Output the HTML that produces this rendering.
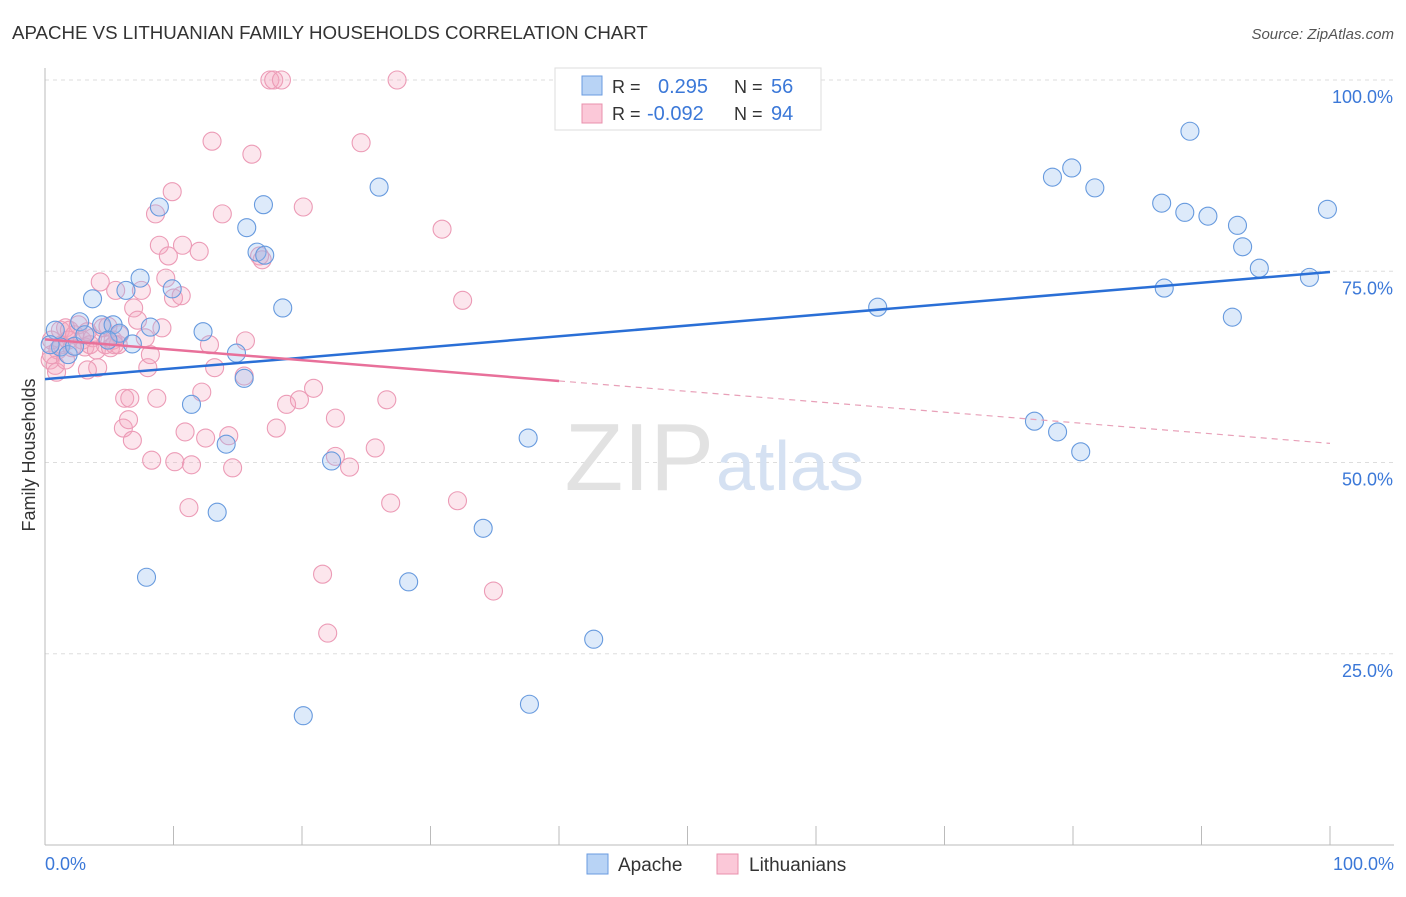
<!DOCTYPE html>
<html><head><meta charset="utf-8"><style>
body{margin:0;background:#fff;font-family:"Liberation Sans",sans-serif;}
svg text{font-family:"Liberation Sans",sans-serif;}
</style></head><body>
<svg id="chart" width="1406" height="892">
<text x="12" y="39" font-size="18.7" fill="#333">APACHE VS LITHUANIAN FAMILY HOUSEHOLDS CORRELATION CHART</text>
<text x="1394" y="39" font-size="15" fill="#555" font-style="italic" text-anchor="end">Source: ZipAtlas.com</text>
<g id="grid"></g>
<text x="714" y="490" font-size="96" fill="#e2e2e2" text-anchor="end" font-family="Liberation Serif">ZIP</text>
<text x="716" y="490" font-size="70" fill="#d5e1f2">atlas</text>
<g id="pts"></g>
<g id="lines"></g>
<text transform="translate(35,455) rotate(-90)" font-size="18" fill="#333" text-anchor="middle">Family Households</text>
<text x="45" y="870" font-size="18" fill="#3b78d8">0.0%</text>
<text x="1394" y="870" font-size="18" fill="#3b78d8" text-anchor="end">100.0%</text>
<g>
<rect x="555" y="68" width="266" height="62" fill="#fff" stroke="#ddd"/>
<rect x="582" y="76" width="20" height="19" fill="#b8d3f5" stroke="#6a9be0"/>
<rect x="582" y="104" width="20" height="19" fill="#fbc8d8" stroke="#e890ac"/>
<text x="612" y="93" font-size="18" fill="#333">R = </text><text x="658" y="93" font-size="20" fill="#3b78d8">0.295</text>
<text x="734" y="93" font-size="18" fill="#333">N = </text><text x="771" y="93" font-size="20" fill="#3b78d8">56</text>
<text x="612" y="120" font-size="18" fill="#333">R = </text><text x="647" y="120" font-size="20" fill="#3b78d8">-0.092</text>
<text x="734" y="120" font-size="18" fill="#333">N = </text><text x="771" y="120" font-size="20" fill="#3b78d8">94</text>
</g>
<g>
<rect x="587" y="854" width="21" height="20" fill="#b8d3f5" stroke="#6a9be0"/>
<text x="618" y="871" font-size="19" fill="#333">Apache</text>
<rect x="717" y="854" width="21" height="20" fill="#fbc8d8" stroke="#e890ac"/>
<text x="749" y="871" font-size="19" fill="#333">Lithuanians</text>
</g>
</svg>
<script>
const yTicks=[25,50,75,100];
const yTickLabels=["25.0%","50.0%","75.0%","100.0%"];
const xTicks=[0,10,20,30,40,50,60,70,80,90,100];
const apacheX=[0.8,1.2,1.8,2.3,2.7,3.7,4.4,5.3,5.8,6.3,6.8,7.4,8.2,7.9,8.9,9.9,11.4,12.3,13.4,14.1,14.9,15.5,15.7,16.5,17.0,17.1,18.5,20.1,22.3,26.0,28.3,34.1,37.6,37.7,42.7,64.8,77.0,78.4,78.8,79.9,80.6,81.7,86.9,87.1,88.7,89.1,90.5,92.4,92.8,93.2,94.5,98.4,99.8,0.4,3.1,4.9];
const apacheY=[67.3,65.1,64.1,65.2,68.4,71.4,68.0,68.0,66.9,72.5,65.5,74.1,67.7,35.0,83.4,72.7,57.6,67.1,43.5,52.4,64.3,61.0,80.7,77.5,83.7,77.1,70.2,16.9,50.2,86.0,34.4,41.4,53.2,18.4,26.9,70.3,55.4,87.3,54.0,88.5,51.4,85.9,83.9,72.8,82.7,93.3,82.2,69.0,81.0,78.2,75.4,74.2,83.1,65.4,66.7,66.0];
const lithX=[0.4,0.5,0.8,1.0,1.2,1.3,1.6,1.8,1.9,2.1,2.3,2.6,2.9,3.1,3.3,3.5,3.7,4.0,4.1,4.3,4.5,4.7,4.9,5.1,5.3,5.5,5.7,5.8,6.1,6.2,6.5,6.6,6.8,6.9,7.2,7.5,7.8,8.0,8.2,8.3,8.6,8.7,8.9,9.1,9.4,9.6,9.9,10.0,10.1,10.6,10.7,10.9,11.2,11.4,12.0,12.2,12.5,12.8,13.0,13.2,13.8,14.3,14.6,15.5,15.6,16.1,16.7,16.9,17.5,17.8,18.4,18.0,18.8,19.8,20.1,20.9,21.6,22.0,22.6,22.6,23.7,24.6,25.7,26.6,26.9,27.4,30.9,32.1,32.5,34.9,0.5,0.9,1.6,3.3,5.4];
const lithY=[63.4,66.0,62.7,64.7,67.3,65.4,67.6,66.0,67.3,65.0,66.7,68.0,66.0,65.1,67.1,65.4,66.3,64.7,62.4,73.6,67.6,65.4,67.8,65.0,66.0,72.5,65.4,66.7,54.5,58.4,55.6,58.4,52.9,70.2,68.6,72.5,66.3,62.4,64.1,50.3,82.5,58.4,78.4,67.6,74.1,77.0,85.4,71.5,50.1,71.8,78.4,54.0,44.1,49.7,77.6,59.2,53.2,65.4,92.0,62.4,82.5,53.5,49.3,61.3,65.9,90.3,77.0,76.5,100,100,100,54.5,57.6,58.2,83.4,59.7,35.4,27.7,55.8,50.8,49.4,91.8,51.9,58.2,44.7,100,80.5,45.0,71.2,33.2,64.1,61.8,63.4,62.1,65.4];
const apacheTrend=[60.9,74.9];
const lithTrend=[66.1,52.5];
const lithSolidEnd=40;
const NS="http://www.w3.org/2000/svg";
const X=v=>45+v*12.85, Y=v=>845-v*7.65;
function mk(t,a,p){const e=document.createElementNS(NS,t);for(const k in a)e.setAttribute(k,a[k]);p.appendChild(e);return e;}
const grid=document.getElementById('grid');
yTicks.forEach((t,i)=>{
 const l=mk('line',{x1:45,x2:1394,y1:Y(t),y2:Y(t),stroke:'#ddd','stroke-dasharray':'4,4'},grid);
 
 
 const tx=mk('text',{x:1393,y:Y(t)+23,'font-size':18,fill:'#3b78d8','text-anchor':'end'},grid);
 tx.textContent=yTickLabels[i];
 
 
});
const ax=mk('line',{x1:45,x2:45,y1:68,y2:845,stroke:'#bbb'},grid);


const bx=mk('line',{x1:45,x2:1394,y1:845,y2:845,stroke:'#bbb'},grid);


xTicks.forEach(t=>{
 const l=mk('line',{x1:X(t),x2:X(t),y1:826,y2:845,stroke:'#bbb'},grid);
 
 
});
const pts=document.getElementById('pts');
lithX.forEach((x,i)=>{
 const c=mk('circle',{cx:X(x),cy:Y(lithY[i]),r:9,fill:'rgba(245,165,192,0.28)',stroke:'#ec9bb6','stroke-width':1.1},pts);
 
 
});
apacheX.forEach((x,i)=>{
 const c=mk('circle',{cx:X(x),cy:Y(apacheY[i]),r:9,fill:'rgba(150,190,240,0.32)',stroke:'#679ade','stroke-width':1.1},pts);
 
 
});
const ln=document.getElementById('lines');
const a=mk('line',{x1:X(0),y1:Y(apacheTrend[0]),x2:X(100),y2:Y(apacheTrend[1]),stroke:'#2a6fd6','stroke-width':2.5},ln);


const lv=x=>lithTrend[0]+(lithTrend[1]-lithTrend[0])*x/100;
const b=mk('line',{x1:X(0),y1:Y(lv(0)),x2:X(lithSolidEnd),y2:Y(lv(lithSolidEnd)),stroke:'#e8709a','stroke-width':2.5},ln);


const d=mk('line',{x1:X(lithSolidEnd),y1:Y(lv(lithSolidEnd)),x2:X(100),y2:Y(lv(100)),stroke:'#e8a0b8','stroke-width':1.2,'stroke-dasharray':'6,5'},ln);


</script>
</body></html>
